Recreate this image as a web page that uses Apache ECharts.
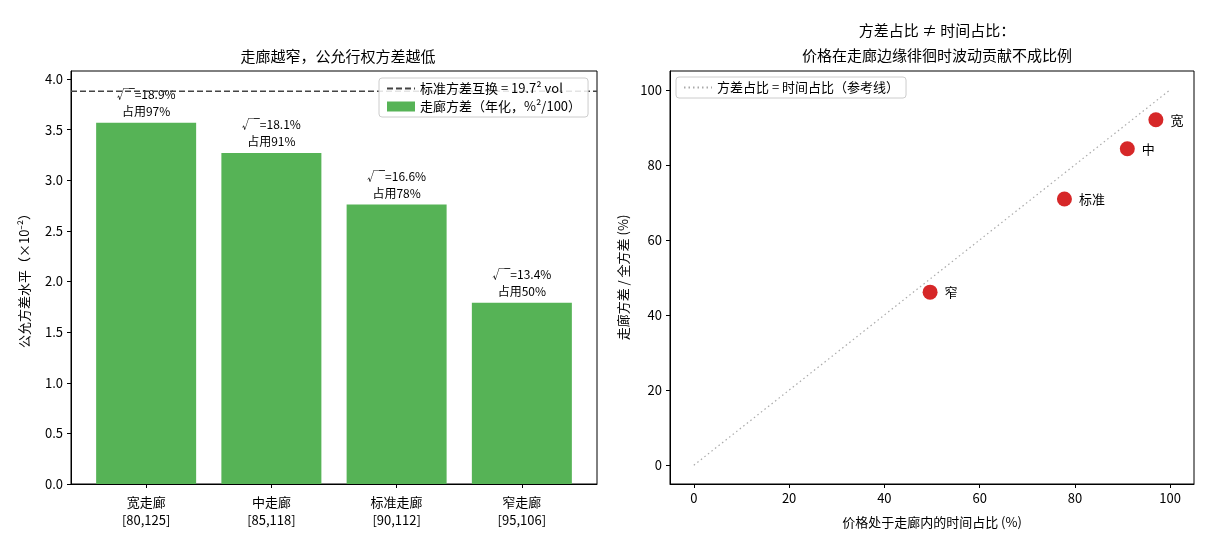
<!DOCTYPE html>
<html lang="zh-CN">
<head>
    <meta charset="utf-8">
    <title>走廊方差</title>
    <script src="https://cdn.jsdelivr.net/npm/echarts@6/dist/echarts.min.js"></script>
</head>
<body style="margin:0;background:#fff;">
    <div id="main" style="width:1210px;height:550px;"></div>
    <script type="text/javascript">
        // 数据
        var corridors = ['宽走廊\n[80,125]', '中走廊\n[85,118]', '标准走廊\n[90,112]', '窄走廊\n[95,106]'];
        var shortNames = ['宽', '中', '标准', '窄'];
        var corridorVar = [3.57, 3.27, 2.76, 1.79];      // ×10^-2
        var sqrtVol = ['18.9', '18.1', '16.6', '13.4'];
        var timeShare = [97, 91, 77.8, 49.6];            // %
        var varShare = [92, 84.3, 70.9, 46.1];           // %
        var swapVar = 3.88;                              // 19.7^2 / 100
        var leftTicks = [0, 0.5, 1, 1.5, 2, 2.5, 3, 3.5, 4];
        var rightTicks = [0, 20, 40, 60, 80, 100];

        var font = '"Noto Sans CJK SC", "Noto Sans", sans-serif';
        var myChart = echarts.init(document.getElementById('main'));

        var barData = corridorVar.map(function (v, i) { return [i, v]; });
        var scatterData = timeShare.map(function (v, i) { return [v, varShare[i], shortNames[i]]; });

        var axisCommon = {
            axisLine: { show: true, onZero: false, lineStyle: { color: '#000', width: 1 } },
            axisTick: { show: true, length: 4, lineStyle: { color: '#000' } },
            axisLabel: { color: '#000', fontSize: 13, fontFamily: font },
            splitLine: { show: false },
            nameTextStyle: { color: '#000', fontSize: 13, fontFamily: font }
        };

        var option = {
            animation: false,
            textStyle: { fontFamily: font },
            title: [{
                text: '走廊越窄，公允行权方差越低',
                left: 333, top: 44, textAlign: 'center',
                textStyle: { fontSize: 15, fontWeight: 'normal', color: '#000', fontFamily: font }
            }, {
                text: '方差占比 ≠ 时间占比：\n价格在走廊边缘徘徊时波动贡献不成比例',
                left: 932, top: 13, textAlign: 'center',
                textStyle: { fontSize: 15, fontWeight: 'normal', color: '#000', lineHeight: 25, fontFamily: font }
            }],
            legend: [{
                left: 379, top: 78,
                orient: 'vertical',
                itemWidth: 28, itemHeight: 10, itemGap: 5,
                padding: [4, 7],
                backgroundColor: 'rgba(255,255,255,0.85)',
                borderColor: '#ccc', borderWidth: 1, borderRadius: 3,
                textStyle: { fontSize: 13, color: '#000', fontFamily: font },
                data: [
                    { name: '标准方差互换 = 19.7² vol', itemStyle: { opacity: 0 } },
                    { name: '走廊方差（年化，%²/100）', icon: 'rect' }
                ]
            }, {
                left: 676, top: 77,
                itemWidth: 28, itemHeight: 10,
                padding: [4, 7],
                backgroundColor: 'rgba(255,255,255,0.85)',
                borderColor: '#ccc', borderWidth: 1, borderRadius: 3,
                textStyle: { fontSize: 13, color: '#000', fontFamily: font },
                data: [{ name: '方差占比 = 时间占比（参考线）', itemStyle: { opacity: 0 } }]
            }],
            grid: [
                { left: 71, top: 71, width: 526, height: 413, show: true, borderColor: '#000', borderWidth: 1 },
                { left: 670, top: 71, width: 524, height: 413, show: true, borderColor: '#000', borderWidth: 1 }
            ],
            xAxis: [
                echarts.util.merge({
                    gridIndex: 0, type: 'value', min: -0.6, max: 3.6,
                    axisTick: { customValues: [0, 1, 2, 3] },
                    axisLabel: {
                        customValues: [0, 1, 2, 3], lineHeight: 18, margin: 9,
                        formatter: function (v) { return corridors[Math.round(v)]; }
                    }
                }, axisCommon, false),
                echarts.util.merge({
                    gridIndex: 1, type: 'value', min: -5, max: 105,
                    name: '价格处于走廊内的时间占比 (%)', nameLocation: 'middle', nameGap: 32,
                    axisTick: { customValues: rightTicks },
                    axisLabel: { customValues: rightTicks }
                }, axisCommon, false)
            ],
            yAxis: [
                echarts.util.merge({
                    gridIndex: 0, type: 'value', min: 0, max: 4.08,
                    name: '公允方差水平（×10⁻²）', nameLocation: 'middle', nameGap: 40,
                    axisTick: { customValues: leftTicks },
                    axisLabel: { customValues: leftTicks, formatter: function (v) { return v.toFixed(1); } }
                }, axisCommon, false),
                echarts.util.merge({
                    gridIndex: 1, type: 'value', min: -5, max: 105,
                    name: '走廊方差 / 全方差 (%)', nameLocation: 'middle', nameGap: 40,
                    axisTick: { customValues: rightTicks },
                    axisLabel: { customValues: rightTicks }
                }, axisCommon, false)
            ],
            series: [{
                name: '走廊方差（年化，%²/100）',
                type: 'bar',
                xAxisIndex: 0, yAxisIndex: 0,
                barWidth: 100,
                itemStyle: { color: '#56b356' },
                data: barData,
                label: {
                    show: true, position: 'top', distance: 3,
                    fontSize: 12, color: '#000', lineHeight: 17, fontFamily: font,
                    formatter: function (p) {
                        return '√‾=' + sqrtVol[p.dataIndex] + '%\n占用' + Math.round(timeShare[p.dataIndex]) + '%';
                    }
                },
                z: 2
            }, {
                name: '标准方差互换 = 19.7² vol',
                type: 'line',
                xAxisIndex: 0, yAxisIndex: 0,
                symbol: 'none',
                lineStyle: { color: '#444', width: 1.5, type: [6, 3] },
                itemStyle: { color: '#444' },
                data: [[-0.6, swapVar], [3.6, swapVar]],
                z: 3
            }, {
                name: '方差占比 = 时间占比（参考线）',
                type: 'line',
                xAxisIndex: 1, yAxisIndex: 1,
                symbol: 'none',
                lineStyle: { color: '#aaa', width: 1.2, type: [1.5, 3] },
                itemStyle: { color: '#aaa' },
                data: [[0, 0], [100, 100]]
            }, {
                name: '走廊点',
                type: 'scatter',
                xAxisIndex: 1, yAxisIndex: 1,
                symbolSize: 15,
                itemStyle: { color: '#d62728', opacity: 1 },
                data: scatterData,
                label: {
                    show: true, position: 'right', distance: 7,
                    fontSize: 13, color: '#000', fontFamily: font,
                    formatter: function (p) { return p.data[2]; }
                },
                z: 4
            }]
        };

        myChart.setOption(option);
    </script>
</body>
</html>
